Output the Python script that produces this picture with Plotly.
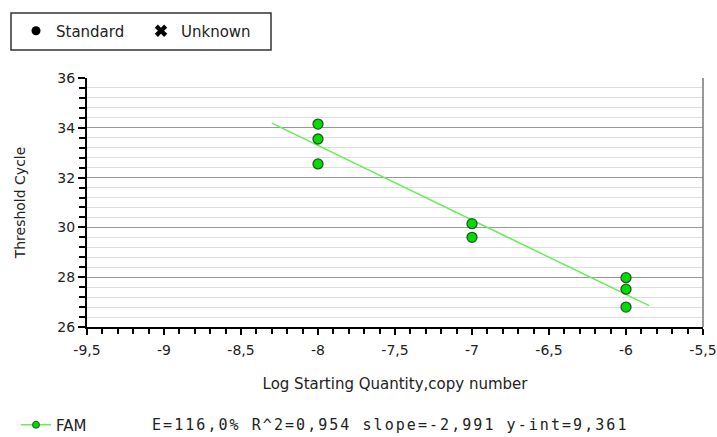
import plotly.graph_objects as go

# Data
std_x = [-8, -8, -8, -7, -7, -6, -6, -6]
std_y = [34.15, 33.55, 32.55, 30.15, 29.6, 27.98, 27.52, 26.8]
slope = -2.991
intercept = 9.361
fit_x = [-8.3, -5.85]
fit_y = [slope * v + intercept for v in fit_x]

x_tickvals = [-9.5, -9, -8.5, -8, -7.5, -7, -6.5, -6, -5.5]
x_ticktext = ["-9,5", "-9", "-8,5", "-8", "-7,5", "-7", "-6,5", "-6", "-5,5"]
y_tickvals = [26, 28, 30, 32, 34, 36]
y_ticktext = ["26", "28", "30", "32", "34", "36"]
stats_text = "E=116,0% R^2=0,954 slope=-2,991 y-int=9,361"

W, H = 717, 437
L, R, T, B = 87, 14, 78, 110
pw, ph = W - L - R, H - T - B

def px_x(p):
    return (p - L) / pw

def px_y(p):
    return (H - B - p) / ph

font_main = "DejaVu Sans"
txt = "#222222"
green_fill = "#00dd00"
green_line = "#66ee55"

fig = go.Figure()

# regression line
fig.add_trace(go.Scatter(x=fit_x, y=fit_y, mode="lines",
                         line=dict(color=green_line, width=1.5),
                         showlegend=False, hoverinfo="skip"))
# standards
fig.add_trace(go.Scatter(x=std_x, y=std_y, mode="markers",
                         marker=dict(size=10, color=green_fill,
                                     line=dict(color="#2f4f2f", width=1.3)),
                         showlegend=False))

# top legend entries
fig.add_trace(go.Scatter(x=[None], y=[None], mode="markers", name="Standard",
                         marker=dict(symbol="circle", size=9, color="black"),
                         legend="legend"))
fig.add_trace(go.Scatter(x=[None], y=[None], mode="markers", name="Unknown",
                         marker=dict(symbol="x", size=11, color="black"),
                         legend="legend"))
# bottom legend entry
fig.add_trace(go.Scatter(x=[None], y=[None], mode="lines+markers", name="FAM",
                         line=dict(color=green_line, width=1.5),
                         marker=dict(size=7, color=green_fill,
                                     line=dict(color="#2f4f2f", width=1)),
                         legend="legend2"))

fig.update_layout(
    width=W, height=H,
    margin=dict(l=L, r=R, t=T, b=B, autoexpand=False),
    paper_bgcolor="white", plot_bgcolor="white",
    font=dict(family=font_main, size=14, color=txt),
    xaxis=dict(range=[-9.5, -5.5], tickmode="array", tickvals=x_tickvals,
               ticktext=x_ticktext, showgrid=False, zeroline=False,
               showline=True, linecolor="black", linewidth=2,
               ticks="outside", ticklen=6, tickcolor="black", tickwidth=1.5,
               ticklabelstandoff=3,
               minor=dict(dtick=0.1, tick0=-9.5, ticks="outside", ticklen=5,
                          tickcolor="black", tickwidth=1.5, showgrid=False),
               tickfont=dict(size=14, color=txt),
               title=dict(text="Log Starting Quantity,copy number",
                          font=dict(size=15, color=txt), standoff=22)),
    yaxis=dict(range=[26, 36], tickmode="array", tickvals=y_tickvals,
               ticktext=y_ticktext, showgrid=True, gridcolor="#999999",
               gridwidth=1, zeroline=False,
               showline=True, linecolor="black", linewidth=2,
               ticks="outside", ticklen=7, tickcolor="black", tickwidth=1.5,
               minor=dict(dtick=0.4, tick0=26, ticks="outside", ticklen=6,
                          tickcolor="black", tickwidth=1.5, showgrid=True,
                          gridcolor="#dddddd", gridwidth=1),
               tickfont=dict(size=14, color=txt),
               title=dict(text="Threshold Cycle",
                          font=dict(size=14, color=txt), standoff=28)),
    legend=dict(orientation="h", x=px_x(16), y=px_y(31), xanchor="left",
                yanchor="middle", bgcolor="rgba(0,0,0,0)", borderwidth=0,
                font=dict(size=15, color=txt), entrywidth=80,
                itemclick=False),
    legend2=dict(orientation="h", x=px_x(16), y=px_y(425), xanchor="left",
                 yanchor="middle", bgcolor="rgba(0,0,0,0)", borderwidth=0,
                 font=dict(size=15, color=txt), itemclick=False),
    showlegend=True,
    shapes=[
        dict(type="rect", xref="paper", yref="paper",
             x0=px_x(11), x1=px_x(271), y0=px_y(13), y1=px_y(50),
             line=dict(color="#333333", width=1.5), fillcolor="rgba(0,0,0,0)"),
        dict(type="line", xref="paper", yref="paper", x0=1, x1=1, y0=0, y1=1,
             line=dict(color="#777777", width=1.5)),
    ],
    annotations=[
        dict(text='<span style="letter-spacing:2.05px">' + stats_text + "</span>",
             xref="paper", yref="paper", x=px_x(150), y=px_y(425),
             xanchor="left", yanchor="middle", showarrow=False,
             font=dict(family="DejaVu Sans Mono", size=15, color=txt)),
    ],
)

fig.write_html("out.html")
